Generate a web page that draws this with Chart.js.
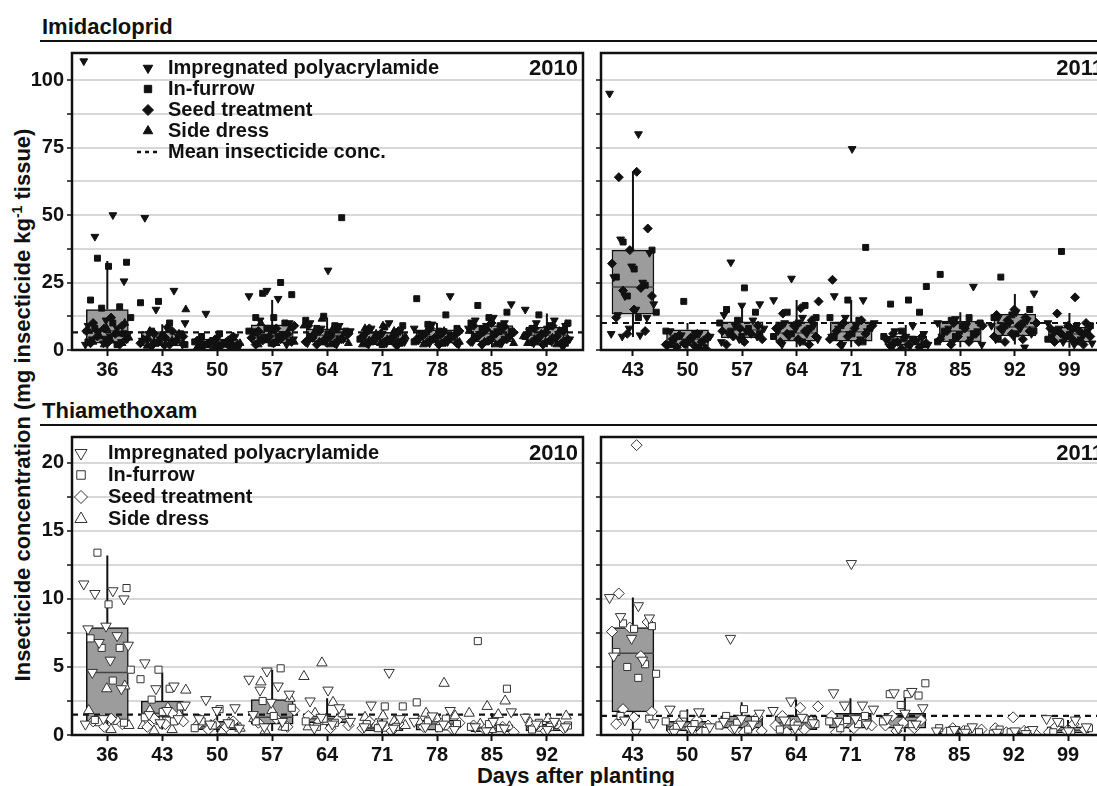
<!DOCTYPE html>
<html>
<head>
<meta charset="utf-8">
<script src="https://cdn.jsdelivr.net/npm/chart.js@4.4.1/dist/chart.umd.min.js"></script>
<style>
html, body { margin: 0; padding: 0; background: #fff; overflow: hidden; width: 1097px; height: 786px; }
#wrap { position: relative; width: 1110px; height: 786px; }
canvas { position: absolute; left: 0; top: 0; }
.t { position: absolute; font-family: "Liberation Sans", Arial, sans-serif; font-weight: bold; color: #111; white-space: nowrap; line-height: 1; }
.rule { position: absolute; height: 2px; background: #111; }
</style>
</head>
<body>
<div id="wrap">
  <div class="t" style="left:42px;top:16px;font-size:22px;">Imidacloprid</div>
  <div class="rule" style="left:40px;top:40px;width:1070px;"></div>
  <div class="t" style="left:42px;top:400px;font-size:22px;">Thiamethoxam</div>
  <div class="rule" style="left:40px;top:424px;width:1070px;"></div>
  <div class="t" style="left:22px;top:405px;font-size:22px;transform:translate(-50%,-50%) rotate(-90deg);">Insecticide concentration (mg insecticide kg<sup style="font-size:14px;">-1</sup> tissue)</div>
  <div class="t" style="left:576px;top:765px;font-size:22px;transform:translateX(-50%);">Days after planting</div>
  <canvas id="imi2010" width="1110" height="786"></canvas>
  <canvas id="imi2011" width="1110" height="786"></canvas>
  <canvas id="thi2010" width="1110" height="786"></canvas>
  <canvas id="thi2011" width="1110" height="786"></canvas>
  <div class="t" style="right:532px;top:57px;font-size:22px;">2010</div>
  <div class="t" style="right:6px;top:57px;font-size:22px;">2011</div>
  <div class="t" style="right:532px;top:442px;font-size:22px;">2010</div>
  <div class="t" style="right:6px;top:442px;font-size:22px;">2011</div>
</div>
<script>
// 采样日（种植后天数）
const days2010 = [36, 43, 50, 57, 64, 71, 78, 85, 92];
const days2011 = [43, 50, 57, 64, 71, 78, 85, 92, 99];

const seriesNames = ['Impregnated polyacrylamide', 'In-furrow', 'Seed treatment', 'Side dress'];
const meanLabel = 'Mean insecticide conc.';

// 箱线图: [下须, Q1, 中位数, Q3, 上须]
const imiBox2010 = [[0.5, 2.5, 7, 15, 33], [1, 1.5, 3.5, 6.8, 9.5], [0.6, 1, 2.5, 4, 6], [1, 2.5, 5.5, 9.3, 18.5], [1, 3, 5.5, 7.8, 12], [0.8, 2, 4, 6.5, 10], [1, 2.5, 5, 7.5, 10], [1, 3, 6, 9, 12], [1, 3, 5.5, 8.5, 13.5]];
const imiBox2011 = [[4.8, 13.3, 23.3, 37, 66], [0.5, 1.5, 4, 7.5, 10], [2, 4.5, 7.4, 10.4, 17], [1, 3.3, 6.3, 10.4, 18.5], [1, 3.3, 6.8, 10.4, 18.5], [0.5, 1.8, 3.3, 5.2, 9.3], [1, 3, 7, 10.7, 14], [2, 5.2, 8.5, 13.3, 20.7], [0.8, 2.9, 5.9, 8.5, 13.7]];
const thiBox2010 = [[0.15, 1.0, 4.6, 7.9, 13.2], [0.4, 1.3, 1.6, 2.5, 4.6], [0.2, 0.4, 0.6, 1.0, 1.7], [0.3, 0.8, 1.3, 2.6, 4.8], [0.4, 0.9, 1.2, 1.4, 2.7], [0.1, 0.3, 0.5, 0.7, 1.3], [0.2, 0.35, 0.8, 1.1, 1.5], [0.1, 0.25, 0.5, 0.75, 1.6], [0.1, 0.3, 0.55, 0.8, 1.3]];
const thiBox2011 = [[0.4, 1.7, 6.0, 7.9, 10.1], [0.1, 0.3, 0.6, 1.0, 1.9], [0.2, 0.5, 1.0, 1.4, 2.4], [0.2, 0.4, 0.9, 1.4, 2.6], [0.2, 0.5, 1.2, 1.6, 2.7], [0.2, 0.5, 1.3, 1.6, 2.9], [0.05, 0.1, 0.25, 0.35, 0.6], [0.05, 0.1, 0.2, 0.3, 0.5], [0.05, 0.15, 0.35, 0.6, 1.1]];

// 平均浓度（虚线）
const imiMean2010 = 6.5;
const imiMean2011 = 10;
const thiMean2010 = 1.5;
const thiMean2011 = 1.4;

// 吡虫啉 2010 单株测定值
const imiIpam2010 = [[107, 50, 42, 25.5, 11, 9, 8, 7, 6, 5, 4, 3, 2.5, 2], [49, 22, 15, 10, 8, 6, 5, 4, 3.5, 3, 2.5, 2, 1.5], [13.5, 5, 4, 3, 2.5, 2, 1.5, 1.2, 1], [22, 20, 19, 11, 10, 8, 7, 6, 5, 4, 3, 2.5, 2], [29.5, 10, 9, 8, 7, 6, 5, 4, 3, 2.5, 2], [10, 8, 7, 6, 5, 4, 3.5, 3, 2.5, 2, 1.5], [20, 9.5, 8, 7, 6, 5, 4, 3.5, 3, 2.5, 2], [17, 12, 11, 10, 9, 8, 7, 6, 5, 4, 3, 2.5], [15, 11, 10, 9, 8, 7, 6, 5, 4, 3, 2.5, 1]];
const imiFur2010 = [[34, 32.5, 31, 18.5, 16, 15.5, 12, 10, 8, 6, 4, 3, 2], [18, 17.5, 10, 7, 6, 5, 4, 3, 2.5, 2], [6, 5, 4, 3.5, 3, 2.5, 2, 1.5, 1], [25, 21, 20.5, 12, 12, 10, 8, 7, 5, 4, 3, 2.5], [49, 12.5, 11, 9, 8, 7, 6, 5, 4, 3], [9, 8.5, 7, 6, 5, 4, 3.5, 3, 2.5, 2], [19, 13, 9.5, 8, 7, 6, 5, 4, 3, 2.5], [16.5, 14, 12, 10, 9, 8, 7, 6, 5, 4, 3], [13, 10, 9, 8, 7, 6, 5, 4, 3, 2.5]];
const imiSeed2010 = [[12, 10, 9, 8, 7, 6, 5, 4, 3, 2.5, 2], [7, 6, 5, 4.5, 4, 3.5, 3, 2.5, 2, 1.5], [5, 4, 3.5, 3, 2.5, 2, 1.5, 1.2, 1], [9, 8, 7, 6, 5, 4.5, 4, 3.5, 3, 2.5, 2], [9, 8, 7, 6, 5, 4.5, 4, 3.5, 3, 2.5, 2], [8, 7, 6, 5, 4.5, 4, 3.5, 3, 2.5, 2], [8, 7, 6, 5.5, 5, 4.5, 4, 3.5, 3, 2.5, 2], [10, 9, 8, 7, 6.5, 6, 5, 4, 3.5, 3, 2.5, 2], [9, 8, 7, 6.5, 6, 5, 4.5, 4, 3.5, 3, 2.5, 2]];
const imiSide2010 = [[10, 8, 7, 6, 5, 4.5, 3.5, 3, 2.5, 2], [15, 9, 7, 6, 5, 4, 3.5, 3, 2.5, 2, 1.5], [4, 3.5, 3, 2.5, 2, 1.8, 1.5, 1.2, 1], [10, 8, 7, 6, 5, 4, 3, 2.5, 2], [11.5, 9, 8, 7, 6, 5, 4, 3.5, 3, 2.5, 2], [9, 8, 7, 6, 5, 4, 3.5, 3, 2.5, 2], [7, 6.5, 6, 5, 4.5, 4, 3.5, 3, 2.5, 2], [9, 8, 7, 6.5, 6, 5, 4.5, 4, 3.5, 3, 2.5, 2], [9.5, 8.5, 7.5, 7, 6, 5, 4.5, 4, 3.5, 3, 2.5, 2]];

// 吡虫啉 2011
const imiIpam2011 = [[95, 80, 41, 36, 31, 27, 25, 20, 17, 15, 13, 12, 8, 6, 5.5, 5], [7, 6, 5.5, 5, 4, 3.5, 3, 2, 1.5, 1], [32.5, 17, 16.5, 13, 11, 9, 8, 7, 6, 5, 4, 3], [26.5, 18.5, 12, 10, 9, 8, 7, 6, 5, 4, 3, 2], [74.5, 20, 18.5, 12, 10, 9, 8, 7, 6, 5, 4, 2], [9, 7, 6, 5, 4, 3.5, 3, 2, 1.5, 1], [23.5, 11.5, 10, 9, 8, 7, 6, 5, 4, 3, 2], [21, 14, 12, 11, 10, 9, 8, 7, 6, 5, 4, 1], [10, 9, 8, 7, 6, 5, 4, 3, 2.5, 2]];
const imiFur2011 = [[40, 37, 30, 27, 24, 20, 14, 12], [18, 7, 6, 5, 4, 3, 2, 1], [23, 15, 14, 11, 10, 8, 7, 6, 5], [16.5, 14, 12, 10, 9, 8, 6, 5, 3], [38, 18.5, 12, 11, 9, 8, 6, 5, 3], [23.5, 18.5, 17, 14, 7, 5, 4, 3, 2], [28, 12, 11, 10, 9, 7, 6, 5, 3], [27, 15, 13, 12, 10, 9, 7, 6, 4], [36.5, 9, 8, 7, 6, 5, 4, 3]];
const imiSeed2011 = [[66, 64, 45, 37, 32, 23, 22, 20, 15, 12, 7, 6], [6, 5.5, 5, 4.5, 4, 3, 2.5, 2, 1.5, 1, 0.5], [9, 8, 7, 6, 5, 4, 3, 2], [18, 15.5, 13.5, 11, 9, 8, 7, 6, 5, 4, 3, 2], [26, 11, 10, 9, 8, 7, 6, 5, 4, 3, 2], [6, 5, 4.5, 4, 3.5, 3, 2.5, 2, 1.5, 1, 0.5], [10, 9, 8, 7, 6, 5, 4, 3, 2], [15, 13, 12, 11, 10, 9, 8, 7, 6, 5, 4, 3], [19.5, 13.5, 10, 9, 8, 7, 6, 5, 4, 3, 2]];
const imiSide2011 = [[], [], [], [], [], [], [], [], []];

// 噻虫嗪 2010
const thiIpam2010 = [[11.1, 10.6, 10.4, 10.0, 8.0, 7.8, 7.3, 6.8, 6.6, 5.5, 4.6, 3.4, 1.2, 0.8], [5.3, 3.6, 3.4, 2.2, 1.8, 1.5, 1.2, 0.9], [2.6, 2.0, 1.8, 1.2, 0.9, 0.8, 0.5], [4.7, 4.1, 3.6, 3.3, 3.0, 2.4, 1.5, 1.0, 0.6], [3.3, 2.5, 2.0, 1.3, 1.0, 0.8, 0.5], [4.6, 2.2, 1.2, 0.8, 0.6, 0.5], [1.8, 1.4, 1.0, 0.8, 0.6, 0.4], [1.7, 1.0, 0.6, 0.5, 0.3], [1.3, 1.0, 0.8, 0.6, 0.4]];
const thiFur2010 = [[13.4, 10.8, 9.6, 7.1, 6.4, 6.4, 4.8, 4.0, 1.1, 0.9], [4.8, 4.1, 3.4, 2.6, 2.1, 1.7, 1.3, 1.0], [1.9, 1.0, 0.8, 0.7, 0.5], [4.9, 2.5, 2.0, 1.4, 1.0, 0.6], [1.6, 1.2, 1.0, 0.9, 0.6], [2.1, 2.1, 0.8, 0.6, 0.5], [2.4, 1.2, 1.0, 0.8, 0.5], [6.9, 3.4, 0.8, 0.6, 0.5], [0.9, 0.7, 0.6, 0.4]];
const thiSeed2010 = [[1.2, 1.0, 0.8, 0.6], [1.6, 1.2, 1.0, 0.8, 0.6], [1.0, 0.8, 0.7, 0.6, 0.4], [1.8, 1.2, 0.9, 0.6], [1.4, 1.1, 1.0, 0.7, 0.5], [1.0, 0.8, 0.7, 0.5, 0.3], [1.2, 0.9, 0.8, 0.6, 0.4], [0.9, 0.7, 0.6, 0.4, 0.2], [0.8, 0.6, 0.5, 0.3]];
const thiSide2010 = [[3.6, 3.4, 1.8, 1.0, 0.9, 0.7, 0.4], [3.3, 2.0, 1.8, 1.5, 1.0, 0.7, 0.4, 0.3], [1.1, 0.9, 0.7, 0.5, 0.3], [3.9, 2.7, 1.8, 1.2, 0.6, 0.3], [5.3, 4.3, 2.4, 1.6, 1.4, 1.0, 0.6], [1.4, 1.3, 1.0, 0.8, 0.7, 0.5], [3.8, 1.6, 1.4, 1.2, 1.0, 0.6], [2.5, 2.1, 1.6, 1.5, 0.8, 0.6, 0.4], [1.4, 1.2, 0.9, 0.7, 0.5]];

// 噻虫嗪 2011
const thiIpam2011 = [[10.1, 9.5, 8.7, 8.6, 7.1, 5.8, 5.5, 1.1, 0.9, 0.2], [1.9, 1.7, 0.8, 0.6, 0.4, 0.2], [7.1, 1.6, 1.2, 1.0, 0.8, 0.5], [2.5, 1.8, 1.3, 1.1, 0.9, 0.5], [12.6, 3.1, 2.2, 2.2, 1.9, 1.2, 1.0, 0.8], [3.2, 3.1, 2.0, 1.6, 1.2, 0.8, 0.5], [0.6, 0.4, 0.3, 0.2], [0.4, 0.3, 0.2, 0.1], [1.2, 1.1, 1.0, 0.6, 0.3]];
const thiFur2011 = [[8.2, 8.0, 7.8, 6.1, 5.2, 5.0, 4.5, 4.2, 1.4, 1.2], [1.5, 1.0, 0.8, 0.6, 0.3], [1.9, 1.4, 1.1, 0.9, 0.7, 0.4], [1.2, 1.0, 0.8, 0.7, 0.4], [1.4, 1.1, 1.0, 0.8, 0.5], [3.8, 3.0, 3.0, 2.9, 2.2, 1.0, 0.8], [0.5, 0.4, 0.3, 0.2], [0.4, 0.3, 0.2, 0.1], [0.9, 0.5, 0.3, 0.2]];
const thiSeed2011 = [[21.3, 10.4, 8.3, 7.9, 7.6, 5.8, 1.9, 1.7, 1.3, 0.8], [1.1, 0.9, 0.7, 0.5, 0.3, 0.2], [1.3, 1.0, 0.8, 0.6, 0.5, 0.3, 0.2], [2.1, 2.0, 1.4, 1.0, 0.8, 0.7, 0.4, 0.2], [1.4, 1.0, 0.8, 0.7, 0.5, 0.2], [1.4, 1.1, 0.9, 0.7, 0.5, 0.3], [0.5, 0.4, 0.3, 0.2, 0.1], [1.3, 0.5, 0.3, 0.2, 0.1], [0.8, 0.6, 0.4, 0.3, 0.2]];
const thiSide2011 = [[], [], [], [], [], [], [], [], []];

// y轴刻度
const imiTicks = [0, 12.5, 25, 37.5, 50, 62.5, 75, 87.5, 100];
const thiTicks = [0, 2.5, 5, 7.5, 10, 12.5, 15, 17.5, 20];

const FONT = '"Liberation Sans", Arial, sans-serif';
const W = 1110, H = 786, YW = 60, XH = 32;

// 标记样式：倒三角、方块、菱形、正三角
const markerStyles = [
  { pointStyle: 'triangle', rotation: 180 },
  { pointStyle: 'rect', rotation: 0 },
  { pointStyle: 'rectRot', rotation: 0 },
  { pointStyle: 'triangle', rotation: 0 }
];

function jitter(i, s, g) {
  const f = (i * 0.618034 + s * 0.29 + g * 0.13) % 1;
  return (f - 0.5) * 6.0;
}

function markerLook(filled, s) {
  if (filled) {
    return { radius: s === 1 ? 4.2 : 4.5, bg: '#111', border: '#111', bw: 1 };
  }
  return { radius: s === 1 ? 5 : (s === 2 ? 5.5 : 6), bg: '#fff', border: '#333', bw: 1 };
}

const panelDeco = {
  id: 'panelDeco',
  afterDatasetDraw(chart, args, opts) {
    if (args.meta.type !== 'bar') return;
    const { ctx } = chart;
    const x = chart.scales.x, y = chart.scales.y;
    ctx.save();
    opts.boxes.forEach((b, i) => {
      const px = x.getPixelForValue(opts.days[i]);
      // 须线
      ctx.strokeStyle = '#111';
      ctx.lineWidth = 2;
      ctx.beginPath();
      ctx.moveTo(px, y.getPixelForValue(b[3]));
      ctx.lineTo(px, y.getPixelForValue(b[4]));
      ctx.moveTo(px, y.getPixelForValue(b[1]));
      ctx.lineTo(px, y.getPixelForValue(b[0]));
      ctx.stroke();
      // 中位数
      const el = args.meta.data[i];
      const hw = el.width / 2;
      const py = y.getPixelForValue(b[2]);
      ctx.strokeStyle = '#444';
      ctx.lineWidth = 1.5;
      ctx.beginPath();
      ctx.moveTo(px - hw, py);
      ctx.lineTo(px + hw, py);
      ctx.stroke();
    });
    ctx.restore();
  },
  afterDraw(chart, args, opts) {
    const { ctx, chartArea: ca } = chart;
    ctx.save();
    ctx.strokeStyle = '#111';
    ctx.lineWidth = 2.5;
    ctx.strokeRect(ca.left, ca.top, ca.right - ca.left, ca.bottom - ca.top);
    const L = opts.legend;
    if (L) {
      ctx.font = 'bold 20px ' + FONT;
      ctx.textBaseline = 'middle';
      ctx.textAlign = 'left';
      L.names.forEach((name, k) => {
        const yy = L.y0 + k * L.dy;
        const m = markerLook(L.filled, k);
        ctx.fillStyle = m.bg;
        ctx.strokeStyle = m.border;
        ctx.lineWidth = m.bw;
        Chart.helpers.drawPoint(ctx, {
          pointStyle: markerStyles[k].pointStyle,
          rotation: markerStyles[k].rotation,
          radius: m.radius + 1,
          borderWidth: m.bw
        }, L.mx, yy);
        ctx.fillStyle = '#111';
        ctx.fillText(name, L.tx, yy);
      });
      if (L.mean) {
        const yy = L.y0 + L.names.length * L.dy;
        ctx.strokeStyle = '#111';
        ctx.lineWidth = 2.5;
        ctx.setLineDash([4, 4]);
        ctx.beginPath();
        ctx.moveTo(L.mx - 11, yy);
        ctx.lineTo(L.mx + 12, yy);
        ctx.stroke();
        ctx.setLineDash([]);
        ctx.fillStyle = '#111';
        ctx.fillText(L.mean, L.tx, yy);
      }
    }
    ctx.restore();
  }
};

function makePanel(id, p) {
  const datasets = [];
  // 箱体（浮动柱）
  datasets.push({
    type: 'bar',
    data: p.days.map((d, i) => ({ x: d, y: [p.boxes[i][1], p.boxes[i][3]] })),
    backgroundColor: '#9c9c9c',
    borderColor: '#111',
    borderWidth: 1.5,
    borderSkipped: false,
    barThickness: 42,
    grouped: false,
    order: 3
  });
  // 平均浓度虚线
  datasets.push({
    type: 'scatter',
    data: [{ x: p.xMin, y: p.mean }, { x: p.xMax, y: p.mean }],
    showLine: true,
    borderColor: '#111',
    borderWidth: 2.2,
    borderDash: [6, 5],
    pointRadius: 0,
    order: 2
  });
  // 散点
  p.series.forEach((vals, s) => {
    const pts = [];
    vals.forEach((group, g) => {
      group.forEach((v, i) => pts.push({ x: p.days[g] + jitter(i, s, g), y: v }));
    });
    const m = markerLook(p.filled, s);
    datasets.push({
      type: 'scatter',
      data: pts,
      pointStyle: markerStyles[s].pointStyle,
      rotation: markerStyles[s].rotation,
      pointRadius: m.radius,
      backgroundColor: m.bg,
      borderColor: m.border,
      borderWidth: m.bw,
      order: 1
    });
  });

  new Chart(document.getElementById(id), {
    type: 'scatter',
    data: { datasets },
    options: {
      responsive: false,
      animation: false,
      events: [],
      layout: {
        padding: {
          left: p.area.left - YW,
          right: W - p.area.right,
          top: p.area.top,
          bottom: H - p.area.bottom - XH
        }
      },
      plugins: {
        legend: { display: false },
        tooltip: { enabled: false },
        panelDeco: { boxes: p.boxes, days: p.days, legend: p.legend }
      },
      scales: {
        x: {
          type: 'linear',
          min: p.xMin,
          max: p.xMax,
          offset: false,
          afterBuildTicks: sc => { sc.ticks = p.days.map(v => ({ value: v })); },
          afterFit: sc => { sc.height = XH; },
          ticks: {
            autoSkip: false,
            maxRotation: 0,
            padding: 2,
            color: '#111',
            font: { family: FONT, size: 20, weight: 'bold' }
          },
          grid: { drawOnChartArea: false, offset: false, tickLength: 6, tickColor: '#111', tickWidth: 2 },
          border: { display: false }
        },
        y: {
          type: 'linear',
          min: 0,
          max: p.yMax,
          afterBuildTicks: sc => { sc.ticks = p.yTicks.map(v => ({ value: v })); },
          afterFit: sc => { sc.width = YW; },
          ticks: {
            padding: 3,
            color: '#111',
            font: { family: FONT, size: 20, weight: 'bold' },
            callback: v => (p.showY && v % p.labelStep === 0) ? v : ''
          },
          grid: { color: '#d8d8d8', lineWidth: 2, tickLength: 5, tickColor: '#111', tickWidth: 1.5 },
          border: { display: false }
        }
      }
    },
    plugins: [panelDeco]
  });
}

makePanel('imi2010', {
  days: days2010, boxes: imiBox2010, mean: imiMean2010,
  series: [imiIpam2010, imiFur2010, imiSeed2010, imiSide2010],
  filled: true, xMin: 31.5, xMax: 96.6, yMax: 110, yTicks: imiTicks, labelStep: 25, showY: true,
  area: { left: 72, right: 583, top: 53, bottom: 350 },
  legend: { names: seriesNames, mean: meanLabel, filled: true, mx: 148, tx: 168, y0: 68, dy: 21 }
});
makePanel('imi2011', {
  days: days2011, boxes: imiBox2011, mean: imiMean2011,
  series: [imiIpam2011, imiFur2011, imiSeed2011, imiSide2011],
  filled: true, xMin: 38.9, xMax: 103.5, yMax: 110, yTicks: imiTicks, labelStep: 25, showY: false,
  area: { left: 601, right: 1108, top: 53, bottom: 350 },
  legend: null
});
makePanel('thi2010', {
  days: days2010, boxes: thiBox2010, mean: thiMean2010,
  series: [thiIpam2010, thiFur2010, thiSeed2010, thiSide2010],
  filled: false, xMin: 31.5, xMax: 96.6, yMax: 21.9, yTicks: thiTicks, labelStep: 5, showY: true,
  area: { left: 72, right: 583, top: 437, bottom: 735 },
  legend: { names: seriesNames, mean: null, filled: false, mx: 81, tx: 108, y0: 453, dy: 22 }
});
makePanel('thi2011', {
  days: days2011, boxes: thiBox2011, mean: thiMean2011,
  series: [thiIpam2011, thiFur2011, thiSeed2011, thiSide2011],
  filled: false, xMin: 38.9, xMax: 103.5, yMax: 21.9, yTicks: thiTicks, labelStep: 5, showY: false,
  area: { left: 601, right: 1108, top: 437, bottom: 735 },
  legend: null
});
</script>
</body>
</html>
